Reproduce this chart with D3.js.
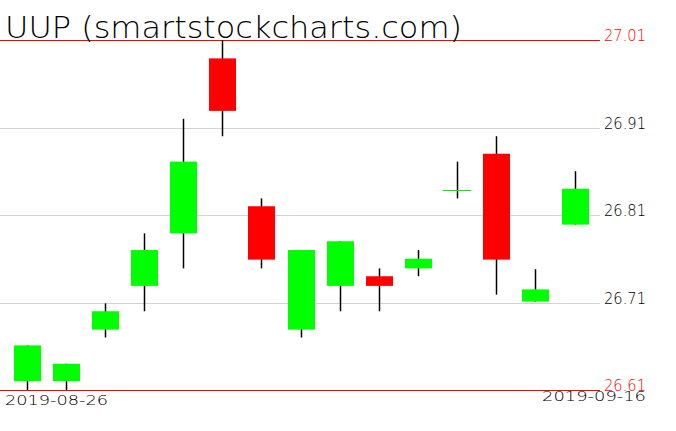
<!DOCTYPE html>
<html><head><meta charset="utf-8">
<script src="https://cdn.jsdelivr.net/npm/d3@7"></script>
<style>html,body{margin:0;padding:0;background:#fff;}svg{display:block;}</style>
</head><body>
<svg id="chart" width="676" height="431"></svg>
<script>
const title = "UUP (smartstockcharts.com)";
const dates = ["2019-08-26","2019-08-27","2019-08-28","2019-08-29","2019-08-30","2019-09-03","2019-09-04","2019-09-05","2019-09-06","2019-09-09","2019-09-10","2019-09-11","2019-09-12","2019-09-13","2019-09-16"];
const open  = [26.620, 26.620, 26.679, 26.729, 26.789, 26.989, 26.820, 26.679, 26.729, 26.740, 26.749, 26.839, 26.880, 26.711, 26.799];
const close = [26.661, 26.640, 26.700, 26.770, 26.871, 26.929, 26.759, 26.770, 26.780, 26.729, 26.760, 26.839, 26.759, 26.725, 26.840];
const high  = [26.661, 26.640, 26.709, 26.789, 26.920, 27.010, 26.829, 26.770, 26.780, 26.749, 26.770, 26.871, 26.900, 26.748, 26.860];
const low   = [26.610, 26.610, 26.670, 26.700, 26.749, 26.900, 26.749, 26.670, 26.700, 26.700, 26.740, 26.829, 26.719, 26.711, 26.799];
const tickValues = [26.61, 26.71, 26.81, 26.91, 27.01];
const redTicks = [26.61, 27.01];

const svg = d3.select("#chart");
const y = d3.scaleLinear().domain([26.61, 27.01]).range([390, 40]);
const x = d3.scalePoint().domain(dates).range([26.5, 574.5]);
const bodyW = 27;
const font = "'DejaVu Sans', sans-serif";
const weight = 200;

// grid + axis labels
const axis = d3.axisRight(y).tickValues(tickValues).tickSize(-600).tickPadding(4)
  .tickFormat(d3.format(".2f"));
const g = svg.append("g").attr("transform", "translate(600,0)").call(axis);
g.select(".domain").remove();
g.selectAll(".tick line")
  .attr("stroke", d => redTicks.includes(d) ? "#ff0000" : "#d3d3d3")
  .attr("stroke-width", 1).attr("shape-rendering", "crispEdges");
g.selectAll(".tick text")
  .attr("font-family", font).attr("font-weight", weight).attr("font-size", 15).attr("dy", "0.05em")
  .attr("textLength", 42).attr("lengthAdjust", "spacingAndGlyphs")
  .attr("fill", d => redTicks.includes(d) ? "#ff0000" : "#000");

// title
svg.append("text").attr("x", 5).attr("y", 37.5).text(title)
  .attr("font-family", font).attr("font-weight", weight).attr("font-size", 30).attr("fill", "#000")
  .attr("textLength", 457).attr("lengthAdjust", "spacingAndGlyphs");

// date labels
svg.append("text").attr("x", 5).attr("y", 405).text(dates[0])
  .attr("font-family", font).attr("font-weight", weight).attr("font-size", 14).attr("fill", "#000")
  .attr("textLength", 103).attr("lengthAdjust", "spacingAndGlyphs");
svg.append("text").attr("x", 646).attr("y", 400.5).attr("text-anchor", "end").text(dates[dates.length-1])
  .attr("font-family", font).attr("font-weight", weight).attr("font-size", 14).attr("fill", "#000")
  .attr("textLength", 104).attr("lengthAdjust", "spacingAndGlyphs");

// candles
const data = dates.map((d, i) => ({d, o: open[i], c: close[i], h: high[i], l: low[i]}));
const cg = svg.append("g");
cg.selectAll("line.wick").data(data).join("line").attr("class", "wick")
  .attr("x1", d => Math.round(x(d.d)) + 0.5).attr("x2", d => Math.round(x(d.d)) + 0.5)
  .attr("y1", d => y(d.h)).attr("y2", d => y(d.l))
  .attr("stroke", "#000").attr("stroke-width", 1.5);
cg.selectAll("rect.body").data(data.filter(d => d.o !== d.c)).join("rect").attr("class", "body")
  .attr("x", d => Math.round(x(d.d)) - 13)
  .attr("y", d => y(Math.max(d.o, d.c)))
  .attr("width", bodyW)
  .attr("height", d => Math.abs(y(d.o) - y(d.c)))
  .attr("fill", d => d.c > d.o ? "#00ff00" : "#ff0000");
cg.selectAll("line.doji").data(data.filter(d => d.o === d.c)).join("line").attr("class", "doji")
  .attr("x1", d => Math.round(x(d.d)) - 14).attr("x2", d => Math.round(x(d.d)) + 14)
  .attr("y1", d => Math.round(y(d.o)) + 0.5).attr("y2", d => Math.round(y(d.o)) + 0.5)
  .attr("stroke", "#00ee00").attr("stroke-width", 1);
</script>
</body></html>
